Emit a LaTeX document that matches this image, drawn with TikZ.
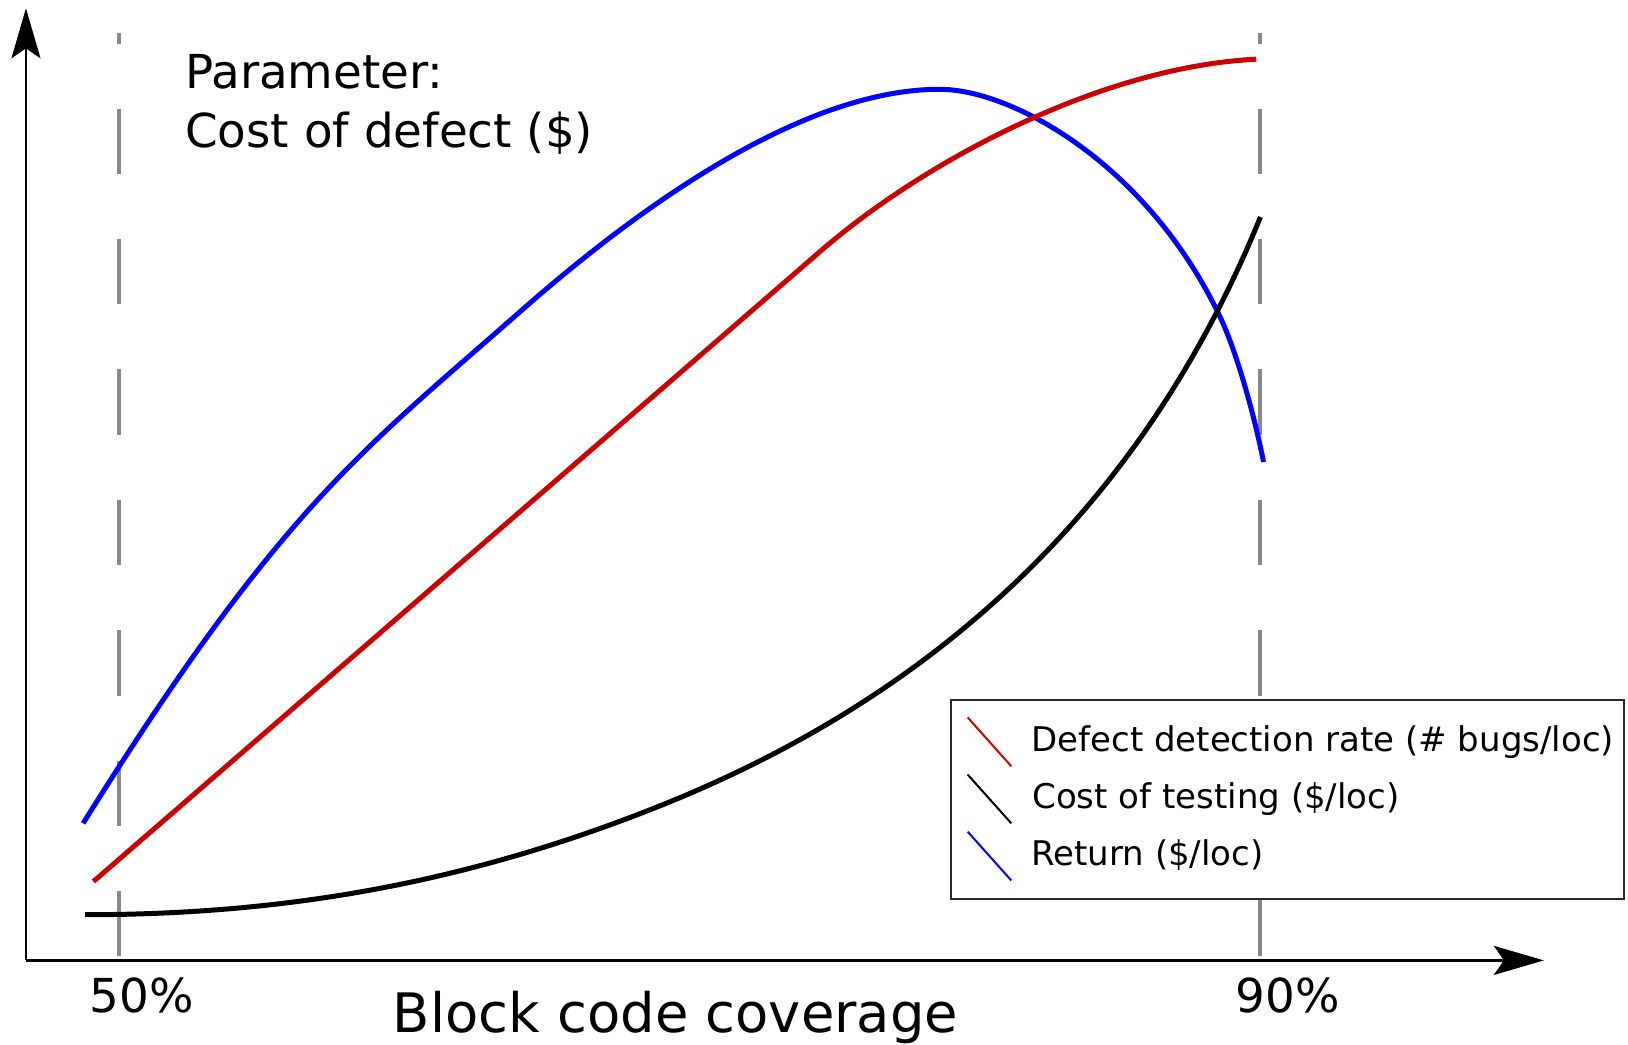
\documentclass[tikz,border=0pt]{standalone}
\usepackage{fontspec}
\setmainfont{DejaVu Sans}
\usetikzlibrary{arrows.meta}
\definecolor{defectred}{RGB}{200,0,0}
\definecolor{returnblue}{RGB}{0,0,255}
\definecolor{guidegray}{RGB}{136,136,136}
\definecolor{legendborder}{RGB}{40,40,40}

\begin{document}
\begin{tikzpicture}[x=0.51915pt, y=-0.51915pt,
  axis/.style={line width=1.3pt, -{Stealth[length=25pt,width=14.5pt,inset=5pt]}},
  guide/.style={draw=guidegray, line width=2pt,
    dash pattern=on 32.7pt off 32.5pt, dash phase=27.5pt},
  curve/.style={line width=2.5pt, line join=round},
  label/.style={inner sep=0pt, anchor=base west, font=\fontsize{23.4}{28}\selectfont},
  title/.style={inner sep=0pt, anchor=base west, font=\fontsize{27.2}{32}\selectfont},
  legtext/.style={inner sep=0pt, anchor=base west, font=\fontsize{17}{20}\selectfont},
  legmark/.style={line width=1pt}]

\useasboundingbox (0,0) rectangle (1568,1006);

% axes
\coordinate (origin) at (25,925);
\coordinate (ytip) at (25,8);
\coordinate (xtip) at (1487,925);
\draw[axis] (origin) -- (ytip);
\draw[axis] (origin) -- (xtip);

% coverage guides at 50% and 90%
\coordinate (g50top) at (115,32);
\coordinate (g50bot) at (115,925);
\coordinate (g90top) at (1214,32);
\coordinate (g90bot) at (1214,925);
\draw[guide] (g50top) -- (g50bot);
\draw[guide] (g90top) -- (g90bot);

% return
\draw[curve, returnblue]
  (80,793) .. controls (270,489) and (350,433) .. (500,301)
           .. controls (610,204) and (770,86) .. (905,86)
           .. controls (975,86) and (1105,158) .. (1175,305)
           .. controls (1190,336.5) and (1207,395) .. (1217,445);

% defect detection rate
\draw[curve, defectred]
  (90,849) -- (790,242.1)
           .. controls (890,155.4) and (1060,64.5) .. (1210,57);

% cost of testing
\draw[curve, black]
  (82,881) .. controls (282,881) and (456,848) .. (636,776)
           .. controls (946,652) and (1119,442.7) .. (1214,209);

% parameter note
\node[label] (param) at (178,85) {Parameter:};
\node[label] (paramcost) at (178,142) {Cost of defect (\$)};

% axis labels
\node[label] (p50) at (86,975) {50\%};
\node[label] (p90) at (1190,975) {90\%};
\node[title] (xlabel) at (378,994) {Block code coverage};

% legend
\node[draw=legendborder, fill=white, line width=1pt, inner sep=0pt,
  anchor=north west, minimum width=336.4pt, minimum height=99.7pt]
  (legend) at (915,673) {};
\coordinate (m1a) at (932,691); \coordinate (m1b) at (974,738);
\coordinate (m2a) at (932,746); \coordinate (m2b) at (974,793);
\coordinate (m3a) at (932,801); \coordinate (m3b) at (974,848);
\draw[legmark, defectred] (m1a) -- (m1b);
\draw[legmark, black] (m2a) -- (m2b);
\draw[legmark, returnblue] (m3a) -- (m3b);
\node[legtext] (l1) at (993,724) {Defect detection rate (\# bugs/loc)};
\node[legtext] (l2) at (994,779) {Cost of testing (\$/loc)};
\node[legtext] (l3) at (993,834) {Return (\$/loc)};
\end{tikzpicture}
\end{document}
